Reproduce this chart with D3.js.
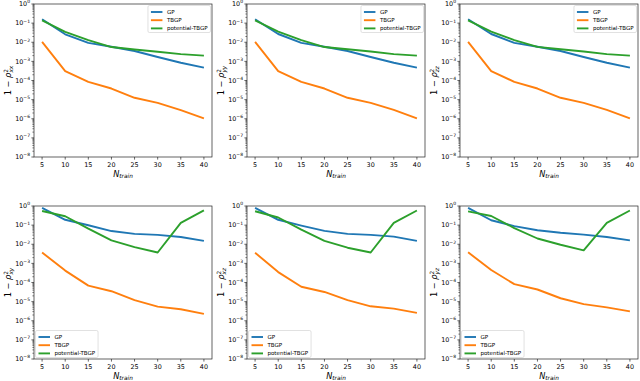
<!DOCTYPE html>
<html>
<head>
<meta charset="utf-8">
<script src="https://cdnjs.cloudflare.com/ajax/libs/d3/7.8.5/d3.min.js"></script>
<style>
  body { margin: 0; background: #fff; }
  text { font-family: "DejaVu Sans", sans-serif; fill: #000; }
</style>
</head>
<body>
<svg id="canvas" width="640" height="381"></svg>
<script>
// data
var n_train = [5, 10, 15, 20, 25, 30, 35, 40];
var series_names = ['GP', 'TBGP', 'potential-TBGP'];
var series_colors = ['#1f77b4', '#ff7f0e', '#2ca02c'];
var panel_labels = ['xx', 'yy', 'zz', 'xy', 'xz', 'yz'];
var y_ticks = [1e0, 1e-1, 1e-2, 1e-3, 1e-4, 1e-5, 1e-6, 1e-7, 1e-8];

var gp_xx = [0.16, 0.026, 0.0093, 0.0058, 0.0035, 0.0017, 0.00085, 0.00047];
var tbgp_xx = [0.0105, 0.00031, 8.5e-5, 3.8e-5, 1.25e-5, 6.8e-6, 2.8e-6, 1.05e-6];
var pot_xx = [0.14, 0.035, 0.013, 0.0056, 0.0042, 0.0032, 0.0024, 0.0020];

var gp_yy = [0.16, 0.027, 0.0093, 0.0058, 0.0035, 0.0017, 0.00085, 0.00047];
var tbgp_yy = [0.0105, 0.00031, 8.5e-5, 3.8e-5, 1.25e-5, 6.8e-6, 2.9e-6, 1.05e-6];
var pot_yy = [0.14, 0.036, 0.013, 0.0056, 0.0043, 0.0033, 0.0024, 0.0020];

var gp_zz = [0.16, 0.027, 0.0093, 0.0058, 0.0035, 0.0017, 0.00085, 0.00047];
var tbgp_zz = [0.0105, 0.00031, 8.5e-5, 3.8e-5, 1.25e-5, 6.8e-6, 2.9e-6, 1.05e-6];
var pot_zz = [0.14, 0.036, 0.013, 0.0057, 0.0043, 0.0033, 0.0024, 0.0020];

var gp_xy = [0.79, 0.19, 0.098, 0.049, 0.035, 0.031, 0.024, 0.015];
var tbgp_xy = [0.0037, 0.00042, 6.9e-5, 3.5e-5, 1.2e-5, 5.5e-6, 4.0e-6, 2.3e-6];
var pot_xy = [0.55, 0.29, 0.065, 0.016, 0.0071, 0.0037, 0.13, 0.59];

var gp_xz = [0.80, 0.19, 0.095, 0.050, 0.035, 0.031, 0.025, 0.015];
var tbgp_xz = [0.0036, 0.00035, 6.0e-5, 3.2e-5, 1.2e-5, 5.7e-6, 4.3e-6, 2.6e-6];
var pot_xz = [0.53, 0.25, 0.058, 0.015, 0.0066, 0.0037, 0.13, 0.58];

var gp_yz = [0.80, 0.18, 0.088, 0.054, 0.040, 0.032, 0.024, 0.016];
var tbgp_yz = [0.0038, 0.00045, 8.2e-5, 4.3e-5, 1.5e-5, 7.4e-6, 5.0e-6, 3.1e-6];
var pot_yz = [0.52, 0.30, 0.070, 0.020, 0.0094, 0.0048, 0.13, 0.58];

var panel_data = [
  [gp_xx, tbgp_xx, pot_xx],
  [gp_yy, tbgp_yy, pot_yy],
  [gp_zz, tbgp_zz, pot_zz],
  [gp_xy, tbgp_xy, pot_xy],
  [gp_xz, tbgp_xz, pot_xz],
  [gp_yz, tbgp_yz, pot_yz]
];

// layout
var col_x = [34, 247, 460];
var row_y = [4, 206];
var pw = 178, ph = 153;

var svg = d3.select('#canvas');
var line_gen = d3.line();

var exps = ['0', '\u22121', '\u22122', '\u22123', '\u22124', '\u22125', '\u22126', '\u22127', '\u22128'];

panel_data.forEach(function(series, p){
  var px = col_x[p % 3], py = row_y[Math.floor(p / 3)];
  var g = svg.append('g').attr('transform', 'translate(' + px + ',' + py + ')');

  var xScale = d3.scaleLinear().domain([5 - 1.75, 40 + 1.75]).range([0, pw]);
  var yScale = d3.scaleLog().domain([1e-8, 1]).range([ph, 0]);

  // minor y ticks
  var minors = [];
  for (var e = -8; e < 0; e++) for (var m = 2; m <= 9; m++) minors.push(m * Math.pow(10, e));
  minors.forEach(function(v){
    g.append('line').attr('x1', -1.6).attr('x2', 0).attr('y1', yScale(v)).attr('y2', yScale(v))
      .style('stroke', '#000').style('stroke-width', 0.5);
  });

  // major y ticks + labels
  y_ticks.forEach(function(v, i){
    var y = yScale(v);
    g.append('line').attr('x1', -2.6).attr('x2', 0).attr('y1', y).attr('y2', y)
      .style('stroke', '#000').style('stroke-width', 0.6);
    var t = g.append('text').attr('x', -4).attr('y', y + 2.2).attr('text-anchor', 'end').style('font-size', '6.4px');
    t.append('tspan').text('10');
    t.append('tspan').attr('dy', -2.8).style('font-size', '4.5px').text(exps[i]);
  });

  // x ticks + labels
  n_train.forEach(function(v){
    var x = xScale(v);
    g.append('line').attr('x1', x).attr('x2', x).attr('y1', ph).attr('y2', ph + 2.6)
      .style('stroke', '#000').style('stroke-width', 0.6);
    g.append('text').attr('x', x).attr('y', ph + 9.5).attr('text-anchor', 'middle').style('font-size', '6.4px').text(v);
  });

  // lines
  series.forEach(function(vals, s){
    var pts = n_train.map(function(n, i){ return [xScale(n), yScale(vals[i])]; });
    g.append('path').attr('d', line_gen(pts))
      .style('fill', 'none').style('stroke', series_colors[s]).style('stroke-width', 1.9)
      .style('stroke-linejoin', 'round');
  });

  // frame
  g.append('rect').attr('x', 0).attr('y', 0).attr('width', pw).attr('height', ph)
    .style('fill', 'none').style('stroke', '#222').style('stroke-width', 0.7);

  // x label
  var xl = g.append('text').attr('x', pw / 2).attr('y', ph + 19.5).attr('text-anchor', 'middle')
    .style('font-size', '8.2px').style('font-style', 'italic');
  xl.append('tspan').text('N');
  xl.append('tspan').attr('dy', 1.8).style('font-size', '5.8px').text('train');

  // y label
  var yl = g.append('text').attr('transform', 'translate(-23,' + (ph / 2) + ') rotate(-90)')
    .attr('text-anchor', 'middle').style('font-size', '8.2px');
  yl.append('tspan').text('1 \u2212 ');
  yl.append('tspan').style('font-style', 'italic').text('\u03c1');
  yl.append('tspan').attr('dy', -3).style('font-size', '5.8px').text('2');
  yl.append('tspan').attr('dx', -3.5).attr('dy', 5).style('font-size', '5.8px').style('font-style', 'italic').text(panel_labels[p]);

  // legend
  var top_row = p < 3;
  var lg = g.append('g');
  var box = lg.append('rect').attr('rx', 1.5).style('fill', '#fff').style('fill-opacity', 0.8)
    .style('stroke', '#ccc').style('stroke-width', 0.6);
  var widths = [];
  series_names.forEach(function(name, s){
    var yy = 6.5 + s * 8.2;
    lg.append('line').attr('x1', 3).attr('x2', 14.5).attr('y1', yy).attr('y2', yy)
      .style('stroke', series_colors[s]).style('stroke-width', 1.9);
    var t = lg.append('text').attr('x', 19).attr('y', yy + 2).style('font-size', '5.5px').text(name);
    widths.push(t.node().getComputedTextLength());
  });
  var bw = 19 + d3.max(widths) + 3, bh = 27;
  box.attr('width', bw).attr('height', bh);
  if (top_row) lg.attr('transform', 'translate(' + (pw - bw - 1.5) + ',1.5)');
  else lg.attr('transform', 'translate(1.5,' + (ph - bh - 1.5) + ')');
});
</script>
</body>
</html>
